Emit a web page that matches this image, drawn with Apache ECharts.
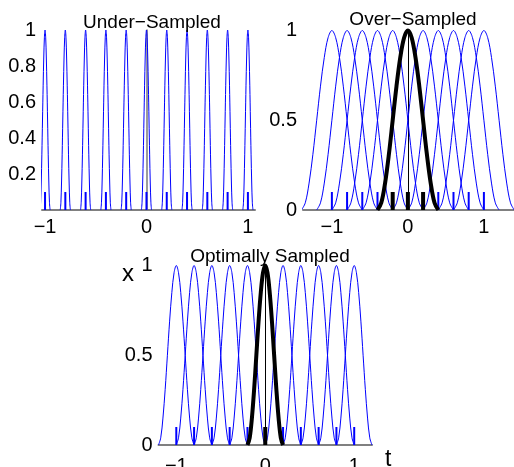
<!DOCTYPE html>
<html>
<head>
<meta charset="utf-8">
<script src="https://cdn.jsdelivr.net/npm/echarts@6/dist/echarts.min.js"></script>
<style>
  html, body { margin: 0; padding: 0; background: #fff; }
  #chart { width: 514px; height: 467px; }
</style>
</head>
<body>
<div id="chart"></div>
<script>
// Sample instants shared by the three panels
const sampleTimes = [-1, -0.8, -0.6, -0.4, -0.2, 0, 0.2, 0.4, 0.6, 0.8, 1];
// Pulse profile: offsets in units of the pulse half-width, and pulse height there
const pulseOffsets = [-1, -0.875, -0.75, -0.625, -0.5, -0.375, -0.25, -0.125, 0,
                      0.125, 0.25, 0.375, 0.5, 0.625, 0.75, 0.875, 1];
const pulseHeights = [0, 0.04, 0.15, 0.31, 0.5, 0.69, 0.85, 0.96, 1,
                      0.96, 0.85, 0.69, 0.5, 0.31, 0.15, 0.04, 0];
// Pulse half-widths for each panel
const halfWidthUnder = 0.05;
const halfWidthOver = 0.4;
const halfWidthOptimal = 0.2;
// Height of the sample markers
const stickHeight = 0.1;
// The highlighted pulse sits at this instant
const highlightTime = 0;
// Panel titles and tick labels
const panelTitles = ['Under\u2212Sampled', 'Over\u2212Sampled', 'Optimally Sampled'];
const xTickValues = [-1, 0, 1];
const yTicksUnder = [0.2, 0.4, 0.6, 0.8, 1];
const yTicksOther = [0, 0.5, 1];

const FONT = 'Liberation Sans, Arial, Helvetica, sans-serif';

function pulse(center, hw) {
  return pulseOffsets.map((u, i) => [center + u * hw, pulseHeights[i]]);
}
// All pulses of a panel in one series, broken by nulls
function pulseTrain(times, hw) {
  const out = [];
  times.forEach((c, k) => {
    if (k > 0) out.push(null);
    pulse(c, hw).forEach(p => out.push(p));
  });
  return out;
}
// Sample markers as short vertical segments
function sticks(times) {
  const out = [];
  times.forEach((c, k) => {
    if (k > 0) out.push(null);
    out.push([c, 0], [c, stickHeight]);
  });
  return out;
}
// Samples that fall inside the highlighted pulse
function coveredTimes(hw) {
  return sampleTimes.filter(t => Math.abs(t - highlightTime) < hw - 1e-9);
}
function tickText(v) {
  return v < 0 ? '\u2212' + Math.abs(v) : String(v);
}

const grids = [
  { left: 42, top: 30, width: 213, height: 180, outerBoundsMode: 'none' },
  { left: 303, top: 30.5, width: 211.3, height: 179.5, outerBoundsMode: 'none' },
  { left: 158.5, top: 265.5, width: 213.5, height: 179.5, outerBoundsMode: 'none' }
];
const xRanges = [[-1.03, 1.07], [-1.38, 1.4], [-1.2, 1.2]];
const xLabelMargins = [7, 7, 11];
const yTicks = [yTicksUnder, yTicksOther, yTicksOther];
const yAxisColors = ['#7a7a7a', '#000', '#000'];

const xAxes = xRanges.map((r, i) => ({
  type: 'value', gridIndex: i, min: r[0], max: r[1],
  axisLine: { show: true, lineStyle: { color: '#808080', width: 2 } },
  axisTick: { show: false },
  splitLine: { show: false },
  axisLabel: {
    customValues: xTickValues, formatter: tickText,
    color: '#000', fontFamily: FONT, fontSize: 20, margin: xLabelMargins[i]
  }
}));
xAxes[2].name = 't';
xAxes[2].nameLocation = 'end';
xAxes[2].nameGap = 13;
xAxes[2].nameTextStyle = { color: '#000', fontFamily: FONT, fontSize: 23, verticalAlign: 'top', padding: [3, 0, 0, 0] };

const yAxes = yTicks.map((ticks, i) => ({
  type: 'value', gridIndex: i, min: 0, max: 1,
  axisLine: { show: true, lineStyle: { color: yAxisColors[i], width: i === 0 ? 1.5 : 1 } },
  axisTick: { show: false },
  splitLine: { show: false },
  axisLabel: {
    customValues: ticks, formatter: tickText,
    color: '#000', fontFamily: FONT, fontSize: 20, margin: 6
  }
}));

const halfWidths = [halfWidthUnder, halfWidthOver, halfWidthOptimal];
const series = [];
halfWidths.forEach((hw, i) => {
  series.push({
    type: 'line', xAxisIndex: i, yAxisIndex: i, data: pulseTrain(sampleTimes, hw),
    smooth: 0.35, showSymbol: false, connectNulls: false, silent: true, clip: true,
    lineStyle: { color: '#0000ff', width: 1 }
  });
  series.push({
    type: 'line', xAxisIndex: i, yAxisIndex: i, data: sticks(sampleTimes),
    showSymbol: false, connectNulls: false, silent: true,
    lineStyle: { color: '#0000ff', width: 2 }
  });
  if (i > 0) {
    series.push({
      type: 'line', xAxisIndex: i, yAxisIndex: i, data: pulse(highlightTime, hw),
      smooth: 0.35, showSymbol: false, silent: true, clip: false,
      lineStyle: { color: '#000', width: 4 }
    });
    series.push({
      type: 'line', xAxisIndex: i, yAxisIndex: i, data: sticks(coveredTimes(hw)),
      showSymbol: false, connectNulls: false, silent: true,
      lineStyle: { color: '#000', width: 4 }
    });
  }
});

const titleCenters = [[147, 8], [408, 5], [265, 242.5]];
const titles = panelTitles.map((t, i) => ({
  text: t, left: titleCenters[i][0], top: titleCenters[i][1], textAlign: 'center',
  textStyle: { color: '#000', fontFamily: FONT, fontSize: 19, fontWeight: 'normal' }
}));

const chart = echarts.init(document.getElementById('chart'), null, { renderer: 'canvas' });
chart.setOption({
  animation: false,
  backgroundColor: '#fff',
  title: titles,
  grid: grids,
  xAxis: xAxes,
  yAxis: yAxes,
  series: series,
  graphic: [{
    type: 'text', left: 122, top: 262,
    style: { text: 'x', font: '24px ' + FONT, fill: '#000' }
  }]
});
</script>
</body>
</html>
